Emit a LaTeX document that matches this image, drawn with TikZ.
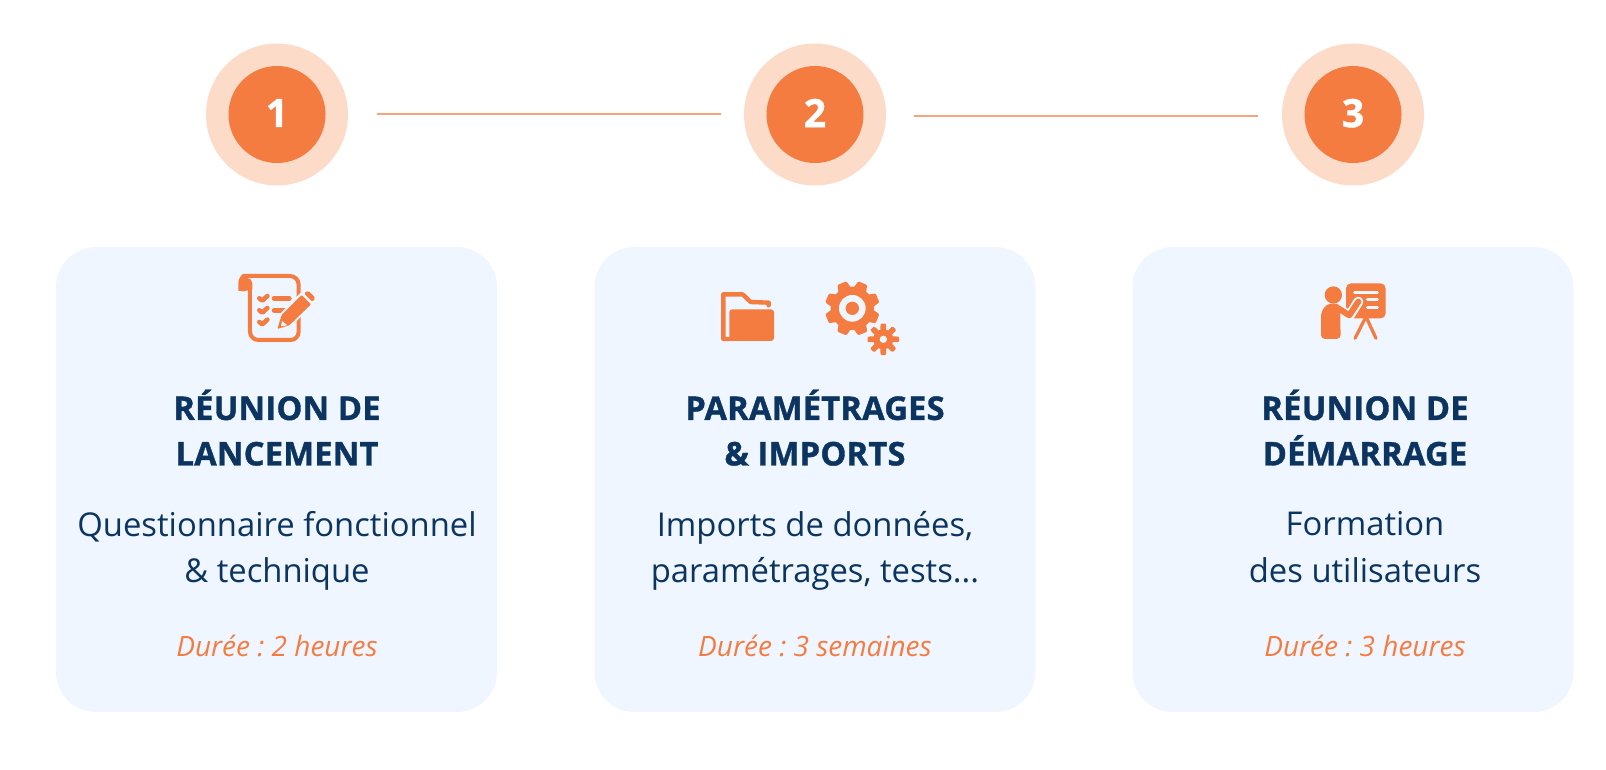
\documentclass[tikz,border=0pt]{standalone}
\usepackage{fontspec}
\usepackage{xcolor}
\setmainfont{Open Sans}
\newfontfamily\titlefont[FakeBold=1.1,LetterSpace=0.8]{Open Sans Bold}
\definecolor{stepcol}{HTML}{F57C40}
\definecolor{ringcol}{HTML}{FCDBC9}
\definecolor{linecol}{HTML}{F6A47C}
\definecolor{cardcol}{HTML}{F0F6FF}
\definecolor{navycol}{HTML}{0B3560}
\newcommand{\drawgear}[5]{% x, y, body radius, tooth radius, first angle
  \begin{scope}[shift={(#1,#2)}]
    \fill [stepcol] (0,0) circle (#3);
    \foreach \a in {0,45,...,315} {
      \fill [stepcol,rounded corners=1pt] (#5+\a-19:#3-3) -- (#5+\a-10:#4) -- (#5+\a+10:#4) -- (#5+\a+19:#3-3) -- cycle;
    }
  \end{scope}
}
\begin{document}
\frenchspacing
\begin{tikzpicture}[x=1pt,y=1pt,
  every node/.style={inner sep=0pt},
  ring/.style={circle,fill=ringcol,minimum size=142pt},
  stepdot/.style={circle,fill=stepcol,text=white,minimum size=97pt,text depth=3pt,font=\titlefont\fontsize{39}{39}\selectfont},
  card/.style={fill=cardcol,rounded corners=40pt,minimum width=441pt,minimum height=465pt},
  steptitle/.style={text=navycol,align=center,text depth=0pt,font=\titlefont\fontsize{32.6}{45.5}\selectfont},
  stepdesc/.style={text=navycol,align=center,text depth=0pt,font=\fontsize{32.8}{46.5}\selectfont},
  stepdur/.style={text=stepcol,font=\itshape\fontsize{28}{28}\selectfont},
  stepline/.style={draw=linecol,line width=1.6pt},
  iconline/.style={draw=stepcol,line width=4pt,line join=round,line cap=round},
  icon/.style={x=0.3333pt,y=-0.3333pt}]
\useasboundingbox (0,0) rectangle (1606,-770);
% cards
\node [card] (carda) at (276.5,-479.5) {};
\node [card] (cardb) at (815,-479.5) {};
\node [card] (cardc) at (1353,-479.5) {};
% steps
\node [ring] (ringa) at (277,-114.5) {};
\node [stepdot] (stepa) at (277,-114.5) {1};
\node [ring] (ringb) at (815,-114.5) {};
\node [stepdot] (stepb) at (815,-114.5) {2};
\node [ring] (ringc) at (1353,-114.5) {};
\node [stepdot] (stepc) at (1353,-114.5) {3};
\draw [stepline] ([xshift=29,yshift=0.5]ringa.east) -- ([xshift=-22.5,yshift=0.5]ringb.west);
\draw [stepline] ([xshift=28,yshift=-1.5]ringb.east) -- ([xshift=-24,yshift=-1.5]ringc.west);
% texts
\node [steptitle] (titlea) at (277,-427.5) {RÉUNION DE\\LANCEMENT};
\node [stepdesc] (desca) at (277,-547) {Questionnaire fonctionnel\\\& technique};
\node [stepdur] (dura) at (277,-646) {Durée : 2 heures};
\node [steptitle] (titleb) at (815,-427.5) {PARAMÉTRAGES\\\& IMPORTS};
\node [stepdesc] (descb) at (815,-547) {Imports de données,\\paramétrages, tests...};
\node [stepdur] (durb) at (815,-646) {Durée : 3 semaines};
\node [steptitle] (titlec) at (1365,-427.5) {RÉUNION DE\\DÉMARRAGE};
\node [stepdesc] (descc) at (1365,-547) {Formation\\des utilisateurs};
\node [stepdur] (durc) at (1365,-646) {Durée : 3 heures};
% icon 1
\begin{scope}[shift={(200,-250)},icon]
\draw [iconline] (130,78) -- (270,78) to[out=0,in=90] (296,104) -- (296,245) to[out=-90,in=0] (272,270) -- (175,270) to[out=180,in=-90] (150,245) -- (150,100);
\fill [stepcol] (115,122) -- (115,98) to[out=90,in=180] (138,72) -- (142,84) to[out=0,in=90] (157,100) -- (157,118) -- (130,124) -- cycle;
\draw [iconline,line width=4.6pt] (178,145) -- (187,152) -- (202,138);
\draw [iconline,line width=4.6pt] (178,181) -- (187,188) -- (202,174);
\draw [iconline,line width=4.6pt] (178,216) -- (187,223) -- (202,209);
\draw [iconline,line width=4.6pt] (222,145) -- (268,145);
\draw [iconline,line width=4.6pt] (222,181) -- (256,181);
\draw [draw=cardcol,line width=4pt,line join=round] (232,237) -- (245,195) -- (318,120) -- (346,145) -- (268,228) -- cycle;
\fill [stepcol,rounded corners=1pt] (232,237) -- (245,195) -- (305,135) -- (333,163) -- (268,226) -- cycle;
\fill [stepcol,rounded corners=1.5pt] (312,130) -- (325,122) -- (346,143) -- (338,156) -- cycle;
\fill [cardcol] (246,213) -- (262,226) -- (243,229) -- cycle;
\end{scope}
% icon 2
\begin{scope}[shift={(700,-270)},icon]
\draw [iconline,line width=4.4pt] (206,106) -- (206,98) -- (152,96) -- (128,73) -- (70,73) -- (70,207) -- (90,207);
\fill [stepcol,rounded corners=3pt] (88,118) rectangle (222,213);
\drawgear{457}{115}{65}{83}{22.5}
\fill [cardcol] (457,115) circle (40);
\fill [stepcol] (457,115) circle (20);
\drawgear{550}{208}{30}{48}{0}
\fill [cardcol] (550,208) circle (11);
\end{scope}
% icon 3
\begin{scope}[shift={(1290,-270)},icon]
\fill [stepcol,rounded corners=5pt] (168,40) rectangle (287,145);
\draw [draw=cardcol,line width=3pt,line cap=round] (194,68) -- (262,68);
\draw [draw=cardcol,line width=3pt,line cap=round] (232,90) -- (262,90);
\draw [draw=cardcol,line width=3pt,line cap=round] (232,112) -- (262,112);
\draw [draw=stepcol,line width=3.2pt,line cap=round] (228,140) -- (195,205);
\draw [draw=stepcol,line width=3.2pt,line cap=round] (228,140) -- (258,205);
\fill [stepcol] (130,75) circle (26);
\draw [draw=cardcol,line width=10pt,line cap=round,line join=round] (150,118) -- (178,138) -- (205,95);
\fill [stepcol,rounded corners=4pt] (93,207) -- (93,125) -- (112,101) -- (150,101) -- (152,207) -- cycle;
\draw [draw=stepcol,line width=6pt,line cap=round,line join=round] (145,115) -- (178,136) -- (205,95);
\end{scope}
\end{tikzpicture}
\end{document}
